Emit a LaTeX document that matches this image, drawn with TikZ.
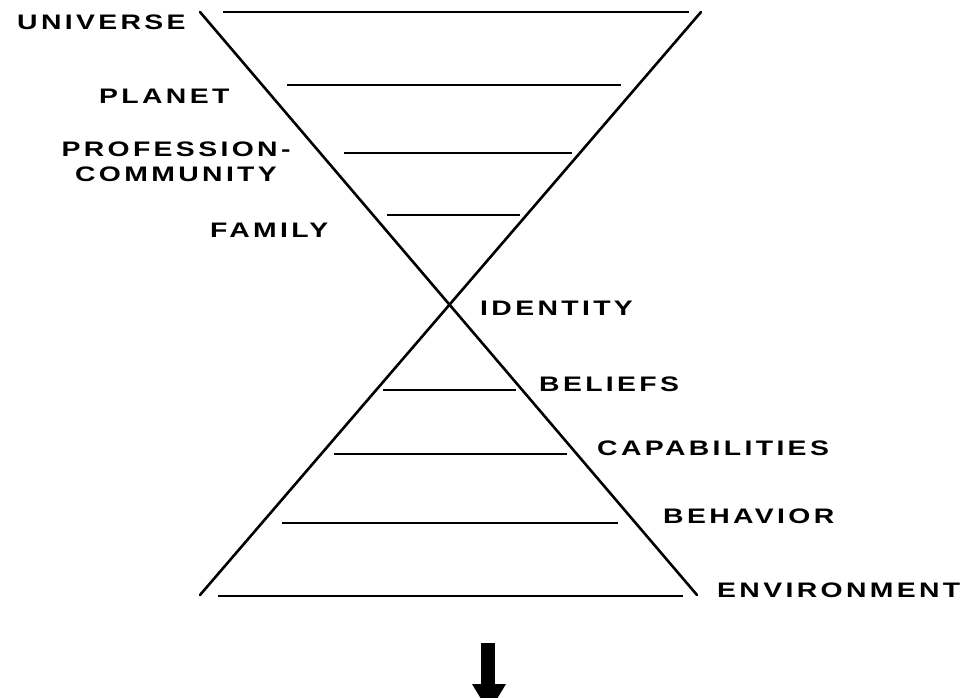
\documentclass[tikz,border=0pt]{standalone}
\usepackage{fontspec}
\setmainfont{Liberation Sans}
\newfontfamily\lblfont{Liberation Sans}[LetterSpace=16,FakeStretch=1.35]
\begin{document}
\begin{tikzpicture}[x=1pt,y=-1pt,
  lbl/.style={font=\lblfont\bfseries\fontsize{21}{25}\selectfont, inner sep=0pt, anchor=west, text=black},
  diag/.style={line width=2.6pt, line cap=round},
  rung/.style={line width=1.3pt}]
\clip (0,0) rectangle (972,698);
\fill[white] (0,0) rectangle (972,698);
% diagonals
\coordinate (d1a) at (200,12);
\coordinate (d1b) at (697,595);
\coordinate (d2a) at (701,12);
\coordinate (d2b) at (200,595);
\draw[diag] (d1a) -- (d1b);
\draw[diag] (d2a) -- (d2b);
% rungs
\coordinate (r1a) at (223,12);  \coordinate (r1b) at (689,12);
\coordinate (r2a) at (287,85);  \coordinate (r2b) at (621,85);
\coordinate (r3a) at (344,153); \coordinate (r3b) at (572,153);
\coordinate (r4a) at (387,215); \coordinate (r4b) at (520,215);
\coordinate (r5a) at (383,390); \coordinate (r5b) at (516,390);
\coordinate (r6a) at (334,454); \coordinate (r6b) at (567,454);
\coordinate (r7a) at (282,523); \coordinate (r7b) at (618,523);
\coordinate (r8a) at (218,596); \coordinate (r8b) at (683,596);
\foreach \i in {1,...,8} {\draw[rung] (r\i a) -- (r\i b);}
% labels
\node[lbl] (universe) at (17,22) {UNIVERSE};
\node[lbl] (planet) at (99,96) {PLANET};
\node[lbl, align=center, anchor=center] (prof) at (176,161.5) {PROFESSION-\\COMMUNITY};
\node[lbl] (family) at (210,230) {FAMILY};
\node[lbl] (identity) at (480,308) {IDENTITY};
\node[lbl] (beliefs) at (539,384) {BELIEFS};
\node[lbl] (capab) at (597,448) {CAPABILITIES};
\node[lbl] (behavior) at (663,516) {BEHAVIOR};
\node[lbl] (environ) at (717,590) {ENVIRONMENT};
% arrow
\fill[black] (481,643) rectangle (495,686);
\fill[black] (472,684) -- (506,684) -- (489,712) -- cycle;
\end{tikzpicture}
\end{document}
